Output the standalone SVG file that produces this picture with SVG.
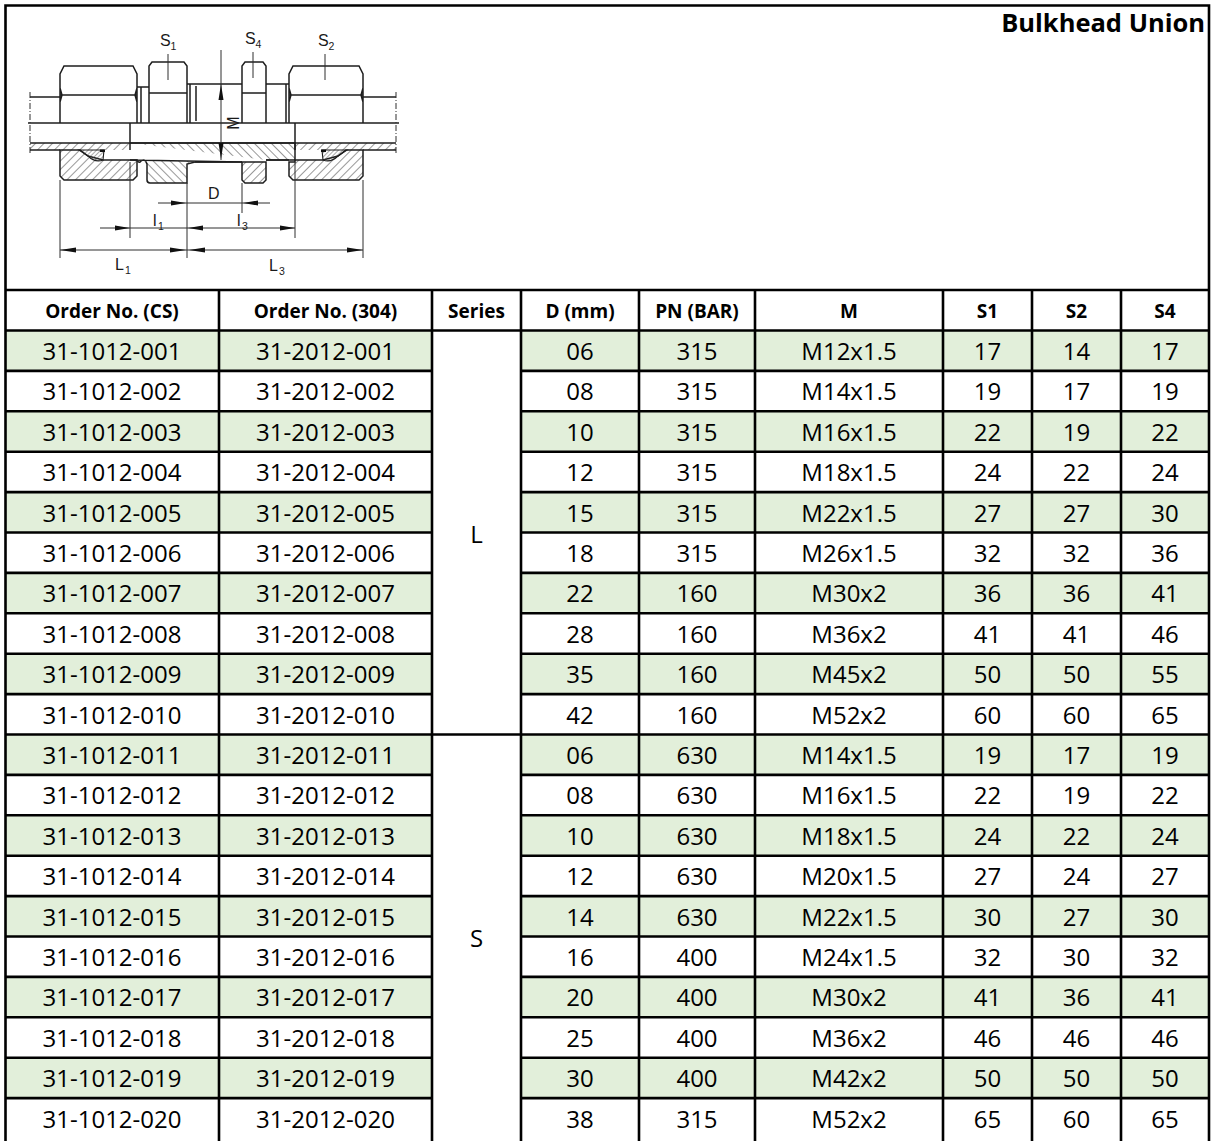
<svg xmlns="http://www.w3.org/2000/svg" width="1211" height="1141" viewBox="0 0 1211 1141">
<style>
.d{font-family:"Open Sans","Liberation Sans",sans-serif;font-size:24px;text-anchor:middle;fill:#000}
.h{font-family:"Open Sans","Liberation Sans",sans-serif;font-size:19px;font-weight:bold;text-anchor:middle;fill:#000}
.t{font-family:"Open Sans","Liberation Sans",sans-serif;font-size:25.5px;font-weight:bold;text-anchor:end;fill:#000}
.g{fill:#E2EFDA}
.ln{stroke:#000;stroke-width:2.6;fill:none}
.dr{stroke:#1e1e1e;stroke-width:1.5;fill:none}
.th{stroke:#2e2e2e;stroke-width:1;fill:none}
.ar{fill:#111}
.lb{font-family:"Liberation Sans",Arial,sans-serif;font-size:16px;fill:#1a1a1a}
.sb{font-family:"Liberation Sans",Arial,sans-serif;font-size:10.5px;fill:#1a1a1a}
</style>
<defs>
<pattern id="hA" patternUnits="userSpaceOnUse" width="6" height="6" patternTransform="rotate(45)"><line x1="0" y1="0" x2="0" y2="6" stroke="#333" stroke-width="1"/></pattern>
<pattern id="hB" patternUnits="userSpaceOnUse" width="6" height="6" patternTransform="rotate(-45)"><line x1="0" y1="0" x2="0" y2="6" stroke="#333" stroke-width="1"/></pattern>
<pattern id="hC" patternUnits="userSpaceOnUse" width="3" height="3" patternTransform="rotate(45)"><line x1="0" y1="0" x2="0" y2="3" stroke="#444" stroke-width="0.9"/></pattern>
</defs>
<rect x="0" y="0" width="1211" height="1141" fill="#fff"/>

<g id="drawing">
  <line class="dr" x1="28" y1="123" x2="399" y2="123"/>
  <path class="dr" d="M30,97 H60 M363,97 H396"/>
  <path class="th" d="M30,92 V155 M396,92 V155" stroke-dasharray="6,2,1,2"/>
  <path class="dr" d="M60,123 V74 L64,66 H133 L137,74 V123 M60,95 H137 M60,88 L62,95 L60,102 M137,88 L135,95 L137,102"/>
  <path class="dr" d="M137,87 H149 M141,87 V123"/>
  <path class="dr" d="M149,123 V66 L152,62 H184 L187,66 V123 M149,93 H187"/>
  <path class="dr" d="M187,84 H242 M190,84 V123 M196,86 V121"/>
  <path class="dr" d="M242,123 V66 L245,62 H263 L266,66 V123 M242,93 H266"/>
  <path class="dr" d="M266,84 H289 M286,84 V123"/>
  <path class="dr" d="M289,123 V74 L293,66 H359 L363,74 V123 M289,95 H363 M289,88 L291,95 L289,102 M363,88 L361,95 L363,102"/>

  <rect x="30" y="143" width="100" height="7" fill="url(#hA)"/>
  <rect x="295" y="143" width="101" height="7" fill="url(#hA)"/>
  <path class="dr" d="M30,150 H60 M363,150 H396 M30,143 H396 M130,123 V150 M295,123 V150"/>
  <path d="M130,143 H295 V160 H266 M242,162 H195 L187,164 V183 H150 Q147,183 147,180 V164 Q145,158 141,161 Q139,164 137,160 H130 Z" fill="url(#hB)" stroke="#1e1e1e" stroke-width="1.5"/>
  <path class="dr" d="M195,162 H242 M266,160 H289"/>
  <path d="M60,150 H80 L88,156 L103,160 H137 V176 L133,180 H64 L60,176 Z" fill="url(#hA)" stroke="#1e1e1e" stroke-width="1.5"/>
  <path d="M79,150 H104 L103,160 Q95,163 88,156 Z" fill="url(#hC)" stroke="#1e1e1e" stroke-width="1.1"/>
  <rect x="100" y="149.5" width="5" height="2.5" fill="#111"/>
  <path d="M242,162 H266 V180 L263,183 H245 L242,180 Z" fill="url(#hA)" stroke="#1e1e1e" stroke-width="1.5"/>
  <path d="M363,150 H346 L338,156 L323,160 H295 V162 H289 V176 L293,180 H359 L363,176 Z" fill="url(#hA)" stroke="#1e1e1e" stroke-width="1.5"/>
  <path d="M347,150 H322 L323,160 Q331,163 338,156 Z" fill="url(#hC)" stroke="#1e1e1e" stroke-width="1.1"/>
  <rect x="321" y="149.5" width="5" height="2.5" fill="#111"/>

  <path class="th" d="M60,180 V258 M130,162 V238 M187,183 V258 M242,183 V213 M295,162 V238 M363,180 V258 M168,54 V80 M253,52 V78 M325,54 V80"/>
  <path class="th" d="M158,203 H270 M100,228 H295 M60,250 H363 M221,50 V160"/>
  <path class="ar" d="M186,203 L171,200.5 L171,205.5 Z M243,203 L258,200.5 L258,205.5 Z M130,228 L115,225.5 L115,230.5 Z M188,228 L203,225.5 L203,230.5 Z M295,228 L280,225.5 L280,230.5 Z M60,250 L76,247.5 L76,252.5 Z M186,250 L170,247.5 L170,252.5 Z M189,250 L205,247.5 L205,252.5 Z M363,250 L347,247.5 L347,252.5 Z M221,84 L218.5,100 L223.5,100 Z M221,159 L218.5,143 L223.5,143 Z"/>
  <text class="lb" x="160" y="46">S</text><text class="sb" x="170.5" y="50">1</text>
  <text class="lb" x="245" y="44">S</text><text class="sb" x="255.5" y="48">4</text>
  <text class="lb" x="318" y="46">S</text><text class="sb" x="328.5" y="50">2</text>
  <text class="lb" transform="translate(239,123) rotate(-90)" text-anchor="middle">M</text>
  <text class="lb" x="208" y="199">D</text>
  <text class="lb" x="153" y="226">l</text><text class="sb" x="158" y="230">1</text>
  <text class="lb" x="237" y="226">l</text><text class="sb" x="242" y="230">3</text>
  <text class="lb" x="115" y="270">L</text><text class="sb" x="125" y="274">1</text>
  <text class="lb" x="269" y="271">L</text><text class="sb" x="279" y="275">3</text>
</g>

<text id="title" class="t" x="1205" y="32">Bulkhead Union</text>

<g id="header">
  <text class="h" x="112" y="317.5">Order No. (CS)</text>
  <text class="h" x="325.5" y="317.5">Order No. (304)</text>
  <text class="h" x="476.5" y="317.5">Series</text>
  <text class="h" x="580" y="317.5">D (mm)</text>
  <text class="h" x="697" y="317.5">PN (BAR)</text>
  <text class="h" x="849" y="317.5">M</text>
  <text class="h" x="987.5" y="317.5">S1</text>
  <text class="h" x="1076.5" y="317.5">S2</text>
  <text class="h" x="1165" y="317.5">S4</text>
</g>

<g id="row-001" transform="translate(0,330.5)"><rect class="g" x="5.5" y="0" width="426.5" height="40.4"/><rect class="g" x="521" y="0" width="688" height="40.4"/><text class="d" x="112" y="29.5">31-1012-001</text><text class="d" x="325.5" y="29.5">31-2012-001</text><text class="d" x="580" y="29.5">06</text><text class="d" x="697" y="29.5">315</text><text class="d" x="849" y="29.5">M12x1.5</text><text class="d" x="987.5" y="29.5">17</text><text class="d" x="1076.5" y="29.5">14</text><text class="d" x="1165" y="29.5">17</text></g>
<g id="row-002" transform="translate(0,370.9)"><text class="d" x="112" y="29.5">31-1012-002</text><text class="d" x="325.5" y="29.5">31-2012-002</text><text class="d" x="580" y="29.5">08</text><text class="d" x="697" y="29.5">315</text><text class="d" x="849" y="29.5">M14x1.5</text><text class="d" x="987.5" y="29.5">19</text><text class="d" x="1076.5" y="29.5">17</text><text class="d" x="1165" y="29.5">19</text></g>
<g id="row-003" transform="translate(0,411.3)"><rect class="g" x="5.5" y="0" width="426.5" height="40.4"/><rect class="g" x="521" y="0" width="688" height="40.4"/><text class="d" x="112" y="29.5">31-1012-003</text><text class="d" x="325.5" y="29.5">31-2012-003</text><text class="d" x="580" y="29.5">10</text><text class="d" x="697" y="29.5">315</text><text class="d" x="849" y="29.5">M16x1.5</text><text class="d" x="987.5" y="29.5">22</text><text class="d" x="1076.5" y="29.5">19</text><text class="d" x="1165" y="29.5">22</text></g>
<g id="row-004" transform="translate(0,451.7)"><text class="d" x="112" y="29.5">31-1012-004</text><text class="d" x="325.5" y="29.5">31-2012-004</text><text class="d" x="580" y="29.5">12</text><text class="d" x="697" y="29.5">315</text><text class="d" x="849" y="29.5">M18x1.5</text><text class="d" x="987.5" y="29.5">24</text><text class="d" x="1076.5" y="29.5">22</text><text class="d" x="1165" y="29.5">24</text></g>
<g id="row-005" transform="translate(0,492.1)"><rect class="g" x="5.5" y="0" width="426.5" height="40.4"/><rect class="g" x="521" y="0" width="688" height="40.4"/><text class="d" x="112" y="29.5">31-1012-005</text><text class="d" x="325.5" y="29.5">31-2012-005</text><text class="d" x="580" y="29.5">15</text><text class="d" x="697" y="29.5">315</text><text class="d" x="849" y="29.5">M22x1.5</text><text class="d" x="987.5" y="29.5">27</text><text class="d" x="1076.5" y="29.5">27</text><text class="d" x="1165" y="29.5">30</text></g>
<g id="row-006" transform="translate(0,532.5)"><text class="d" x="112" y="29.5">31-1012-006</text><text class="d" x="325.5" y="29.5">31-2012-006</text><text class="d" x="580" y="29.5">18</text><text class="d" x="697" y="29.5">315</text><text class="d" x="849" y="29.5">M26x1.5</text><text class="d" x="987.5" y="29.5">32</text><text class="d" x="1076.5" y="29.5">32</text><text class="d" x="1165" y="29.5">36</text></g>
<g id="row-007" transform="translate(0,572.9)"><rect class="g" x="5.5" y="0" width="426.5" height="40.4"/><rect class="g" x="521" y="0" width="688" height="40.4"/><text class="d" x="112" y="29.5">31-1012-007</text><text class="d" x="325.5" y="29.5">31-2012-007</text><text class="d" x="580" y="29.5">22</text><text class="d" x="697" y="29.5">160</text><text class="d" x="849" y="29.5">M30x2</text><text class="d" x="987.5" y="29.5">36</text><text class="d" x="1076.5" y="29.5">36</text><text class="d" x="1165" y="29.5">41</text></g>
<g id="row-008" transform="translate(0,613.3)"><text class="d" x="112" y="29.5">31-1012-008</text><text class="d" x="325.5" y="29.5">31-2012-008</text><text class="d" x="580" y="29.5">28</text><text class="d" x="697" y="29.5">160</text><text class="d" x="849" y="29.5">M36x2</text><text class="d" x="987.5" y="29.5">41</text><text class="d" x="1076.5" y="29.5">41</text><text class="d" x="1165" y="29.5">46</text></g>
<g id="row-009" transform="translate(0,653.7)"><rect class="g" x="5.5" y="0" width="426.5" height="40.4"/><rect class="g" x="521" y="0" width="688" height="40.4"/><text class="d" x="112" y="29.5">31-1012-009</text><text class="d" x="325.5" y="29.5">31-2012-009</text><text class="d" x="580" y="29.5">35</text><text class="d" x="697" y="29.5">160</text><text class="d" x="849" y="29.5">M45x2</text><text class="d" x="987.5" y="29.5">50</text><text class="d" x="1076.5" y="29.5">50</text><text class="d" x="1165" y="29.5">55</text></g>
<g id="row-010" transform="translate(0,694.1)"><text class="d" x="112" y="29.5">31-1012-010</text><text class="d" x="325.5" y="29.5">31-2012-010</text><text class="d" x="580" y="29.5">42</text><text class="d" x="697" y="29.5">160</text><text class="d" x="849" y="29.5">M52x2</text><text class="d" x="987.5" y="29.5">60</text><text class="d" x="1076.5" y="29.5">60</text><text class="d" x="1165" y="29.5">65</text></g>
<g id="row-011" transform="translate(0,734.5)"><rect class="g" x="5.5" y="0" width="426.5" height="40.4"/><rect class="g" x="521" y="0" width="688" height="40.4"/><text class="d" x="112" y="29.5">31-1012-011</text><text class="d" x="325.5" y="29.5">31-2012-011</text><text class="d" x="580" y="29.5">06</text><text class="d" x="697" y="29.5">630</text><text class="d" x="849" y="29.5">M14x1.5</text><text class="d" x="987.5" y="29.5">19</text><text class="d" x="1076.5" y="29.5">17</text><text class="d" x="1165" y="29.5">19</text></g>
<g id="row-012" transform="translate(0,774.9)"><text class="d" x="112" y="29.5">31-1012-012</text><text class="d" x="325.5" y="29.5">31-2012-012</text><text class="d" x="580" y="29.5">08</text><text class="d" x="697" y="29.5">630</text><text class="d" x="849" y="29.5">M16x1.5</text><text class="d" x="987.5" y="29.5">22</text><text class="d" x="1076.5" y="29.5">19</text><text class="d" x="1165" y="29.5">22</text></g>
<g id="row-013" transform="translate(0,815.3)"><rect class="g" x="5.5" y="0" width="426.5" height="40.4"/><rect class="g" x="521" y="0" width="688" height="40.4"/><text class="d" x="112" y="29.5">31-1012-013</text><text class="d" x="325.5" y="29.5">31-2012-013</text><text class="d" x="580" y="29.5">10</text><text class="d" x="697" y="29.5">630</text><text class="d" x="849" y="29.5">M18x1.5</text><text class="d" x="987.5" y="29.5">24</text><text class="d" x="1076.5" y="29.5">22</text><text class="d" x="1165" y="29.5">24</text></g>
<g id="row-014" transform="translate(0,855.7)"><text class="d" x="112" y="29.5">31-1012-014</text><text class="d" x="325.5" y="29.5">31-2012-014</text><text class="d" x="580" y="29.5">12</text><text class="d" x="697" y="29.5">630</text><text class="d" x="849" y="29.5">M20x1.5</text><text class="d" x="987.5" y="29.5">27</text><text class="d" x="1076.5" y="29.5">24</text><text class="d" x="1165" y="29.5">27</text></g>
<g id="row-015" transform="translate(0,896.1)"><rect class="g" x="5.5" y="0" width="426.5" height="40.4"/><rect class="g" x="521" y="0" width="688" height="40.4"/><text class="d" x="112" y="29.5">31-1012-015</text><text class="d" x="325.5" y="29.5">31-2012-015</text><text class="d" x="580" y="29.5">14</text><text class="d" x="697" y="29.5">630</text><text class="d" x="849" y="29.5">M22x1.5</text><text class="d" x="987.5" y="29.5">30</text><text class="d" x="1076.5" y="29.5">27</text><text class="d" x="1165" y="29.5">30</text></g>
<g id="row-016" transform="translate(0,936.5)"><text class="d" x="112" y="29.5">31-1012-016</text><text class="d" x="325.5" y="29.5">31-2012-016</text><text class="d" x="580" y="29.5">16</text><text class="d" x="697" y="29.5">400</text><text class="d" x="849" y="29.5">M24x1.5</text><text class="d" x="987.5" y="29.5">32</text><text class="d" x="1076.5" y="29.5">30</text><text class="d" x="1165" y="29.5">32</text></g>
<g id="row-017" transform="translate(0,976.9)"><rect class="g" x="5.5" y="0" width="426.5" height="40.4"/><rect class="g" x="521" y="0" width="688" height="40.4"/><text class="d" x="112" y="29.5">31-1012-017</text><text class="d" x="325.5" y="29.5">31-2012-017</text><text class="d" x="580" y="29.5">20</text><text class="d" x="697" y="29.5">400</text><text class="d" x="849" y="29.5">M30x2</text><text class="d" x="987.5" y="29.5">41</text><text class="d" x="1076.5" y="29.5">36</text><text class="d" x="1165" y="29.5">41</text></g>
<g id="row-018" transform="translate(0,1017.3)"><text class="d" x="112" y="29.5">31-1012-018</text><text class="d" x="325.5" y="29.5">31-2012-018</text><text class="d" x="580" y="29.5">25</text><text class="d" x="697" y="29.5">400</text><text class="d" x="849" y="29.5">M36x2</text><text class="d" x="987.5" y="29.5">46</text><text class="d" x="1076.5" y="29.5">46</text><text class="d" x="1165" y="29.5">46</text></g>
<g id="row-019" transform="translate(0,1057.7)"><rect class="g" x="5.5" y="0" width="426.5" height="40.4"/><rect class="g" x="521" y="0" width="688" height="40.4"/><text class="d" x="112" y="29.5">31-1012-019</text><text class="d" x="325.5" y="29.5">31-2012-019</text><text class="d" x="580" y="29.5">30</text><text class="d" x="697" y="29.5">400</text><text class="d" x="849" y="29.5">M42x2</text><text class="d" x="987.5" y="29.5">50</text><text class="d" x="1076.5" y="29.5">50</text><text class="d" x="1165" y="29.5">50</text></g>
<g id="row-020" transform="translate(0,1098.1)"><text class="d" x="112" y="29.5">31-1012-020</text><text class="d" x="325.5" y="29.5">31-2012-020</text><text class="d" x="580" y="29.5">38</text><text class="d" x="697" y="29.5">315</text><text class="d" x="849" y="29.5">M52x2</text><text class="d" x="987.5" y="29.5">65</text><text class="d" x="1076.5" y="29.5">60</text><text class="d" x="1165" y="29.5">65</text></g>

<g id="series">
  <text class="d" x="476.5" y="543">L</text>
  <text class="d" x="476.5" y="947">S</text>
</g>

<g id="grid">
  <path class="ln" d="M5.5,5.5 H1209 M5.5,4.2 V1141 M1209,4.2 V1141 M5.5,290 H1209 M5.5,330.5 H1209 M5.5,734.5 H1209"/>
  <path class="ln" d="M219,290 V1141 M432,290 V1141 M521,290 V1141 M639,290 V1141 M755,290 V1141 M943,290 V1141 M1032,290 V1141 M1121,290 V1141"/>
  <path class="ln" d="M5.5,370.9 H432 M521,370.9 H1209 M5.5,411.3 H432 M521,411.3 H1209 M5.5,451.7 H432 M521,451.7 H1209 M5.5,492.1 H432 M521,492.1 H1209 M5.5,532.5 H432 M521,532.5 H1209 M5.5,572.9 H432 M521,572.9 H1209 M5.5,613.3 H432 M521,613.3 H1209 M5.5,653.7 H432 M521,653.7 H1209 M5.5,694.1 H432 M521,694.1 H1209"/>
  <path class="ln" d="M5.5,774.9 H432 M521,774.9 H1209 M5.5,815.3 H432 M521,815.3 H1209 M5.5,855.7 H432 M521,855.7 H1209 M5.5,896.1 H432 M521,896.1 H1209 M5.5,936.5 H432 M521,936.5 H1209 M5.5,976.9 H432 M521,976.9 H1209 M5.5,1017.3 H432 M521,1017.3 H1209 M5.5,1057.7 H432 M521,1057.7 H1209 M5.5,1098.1 H432 M521,1098.1 H1209"/>
</g>
</svg>
